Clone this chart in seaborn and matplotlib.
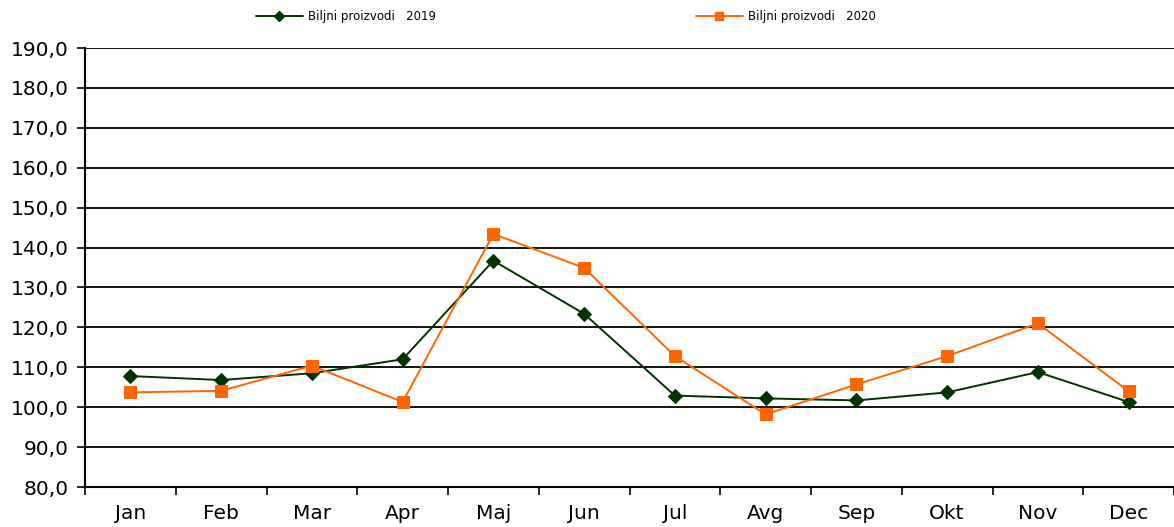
import matplotlib
matplotlib.use("Agg")
import matplotlib.pyplot as plt
from matplotlib.lines import Line2D
from matplotlib.ticker import FixedLocator, NullFormatter
import seaborn as sns
import pandas as pd

months = ["Jan", "Feb", "Mar", "Apr", "Maj", "Jun", "Jul", "Avg", "Sep", "Okt", "Nov", "Dec"]
series_2019 = [107.8, 106.8, 108.5, 112.0, 136.7, 123.4, 102.9, 102.2, 101.7, 103.7, 108.8, 101.3]
series_2020 = [103.7, 104.1, 110.4, 101.3, 143.4, 134.9, 112.8, 98.2, 105.7, 112.8, 121.0, 104.0]
label_2019 = "Biljni proizvodi   2019"
label_2020 = "Biljni proizvodi   2020"
yticks = list(range(80, 191, 10))

sns.set_theme(style="white")
plt.rcParams["font.family"] = ["DejaVu Sans"]
plt.rcParams["text.color"] = "black"
plt.rcParams["xtick.color"] = "black"
plt.rcParams["ytick.color"] = "black"

df = pd.DataFrame({
    "month": months * 2,
    "value": series_2019 + series_2020,
    "series": [label_2019] * 12 + [label_2020] * 12,
})

fig = plt.figure(figsize=(11.74, 5.27), dpi=100)
ax = fig.add_axes([85 / 1174, 1 - 487 / 527, 1 - 85 / 1174, (487 - 48) / 527])

green = "#003300"
orange = "#FF6600"

sns.lineplot(data=df[df.series == label_2019], x="month", y="value", color=green,
             marker="D", markersize=7, markeredgecolor=green, linewidth=1.4, ax=ax,
             sort=False, legend=False)
sns.lineplot(data=df[df.series == label_2020], x="month", y="value", color=orange,
             marker="s", markersize=9, markeredgecolor=orange, linewidth=1.4, ax=ax,
             sort=False, legend=False)

ax.set_xlim(-0.5, 11.5)
ax.set_ylim(80, 190)
ax.set_yticks(yticks)
ax.set_yticklabels([f"{v:.1f}".replace(".", ",") for v in yticks], fontsize=14.5, color="black")
ax.set_xticks(range(12))
ax.set_xticklabels(months, fontsize=14.5, color="black")
ax.xaxis.set_minor_locator(FixedLocator([i - 0.5 for i in range(13)]))
ax.xaxis.set_minor_formatter(NullFormatter())
ax.tick_params(axis="x", which="major", length=0, pad=12)
ax.tick_params(axis="x", which="minor", length=6, width=1.2, color="black", direction="out", bottom=True)
ax.tick_params(axis="y", length=6, width=1.2, color="black", direction="out", left=True, pad=6)
ax.set_xlabel("")
ax.set_ylabel("")

for y in yticks[1:]:
    ax.axhline(y, color="black", linewidth=1.3, zorder=0)

for s in ["top", "right"]:
    ax.spines[s].set_visible(False)
for s in ["left", "bottom"]:
    ax.spines[s].set_color("black")
    ax.spines[s].set_linewidth(1.5)

h1 = Line2D([], [], color=green, marker="D", markersize=5, linewidth=1.4)
h2 = Line2D([], [], color=orange, marker="s", markersize=6, linewidth=1.4)
leg1 = fig.legend([h1], [label_2019], loc="center left", bbox_to_anchor=(245 / 1174, 1 - 17 / 527),
                  frameon=False, fontsize=8.5, handlelength=4.0, handletextpad=0.4, labelcolor="black")
leg2 = fig.legend([h2], [label_2020], loc="center left", bbox_to_anchor=(685 / 1174, 1 - 17 / 527),
                  frameon=False, fontsize=8.5, handlelength=4.0, handletextpad=0.4, labelcolor="black")

fig.savefig("out.png", dpi=100)
